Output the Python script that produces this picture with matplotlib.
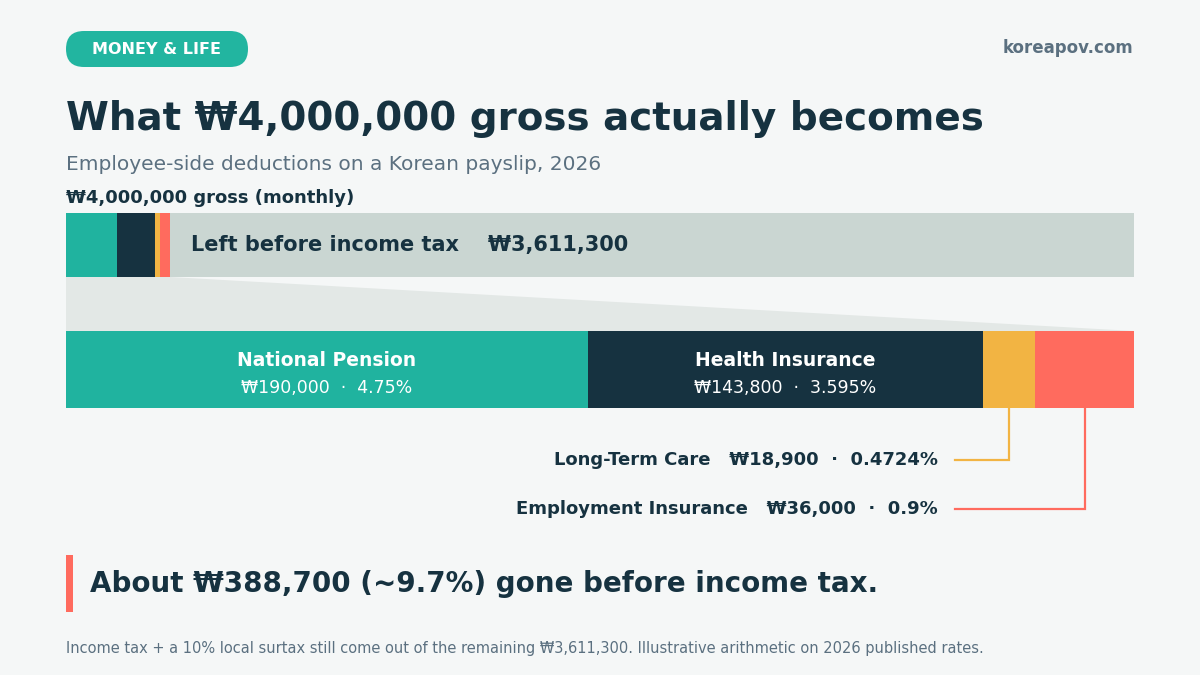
import matplotlib.pyplot as plt
from matplotlib.patches import FancyBboxPatch, Polygon, Rectangle

# data
gross = 4000000
labels = ["National Pension", "Health Insurance", "Long-Term Care", "Employment Insurance"]
amounts = [190000, 143800, 18900, 36000]
rates = ["4.75%", "3.595%", "0.4724%", "0.9%"]
colors = ["#20b39f", "#163240", "#f2b443", "#ff6b5e"]
remaining = gross - sum(amounts)

BG = "#f5f7f7"
DARK = "#163240"
GRAY = "#5b7080"
REST = "#cad6d2"
FUNNEL = "#e3e8e6"

W, H = 1200, 675
fig = plt.figure(figsize=(12, 6.75), dpi=100, facecolor=BG)

# overlay in pixel coordinates for text and decoration
ov = fig.add_axes([0, 0, 1, 1], zorder=0)
ov.set_xlim(0, W)
ov.set_ylim(H, 0)
ov.axis("off")

def fig_rect(x0, y0, x1, y1):
    return [x0 / W, 1 - y1 / H, (x1 - x0) / W, (y1 - y0) / H]

ax_top = fig.add_axes(fig_rect(66, 213, 1134, 277), zorder=2)
ax_bot = fig.add_axes(fig_rect(66, 331, 1134, 408), zorder=2)
for a in (ax_top, ax_bot):
    a.axis("off")
    a.set_ylim(-0.5, 0.5)

# top bar: whole gross
left = 0
for amt, c in zip(amounts, colors):
    ax_top.barh(0, amt, left=left, height=1, color=c, linewidth=0)
    left += amt
ax_top.barh(0, remaining, left=left, height=1, color=REST, linewidth=0)
ax_top.set_xlim(0, gross)

# bottom bar: deductions only
total_ded = sum(amounts)
left = 0
centers = []
for amt, c in zip(amounts, colors):
    ax_bot.barh(0, amt, left=left, height=1, color=c, linewidth=0)
    centers.append(left + amt / 2)
    left += amt
ax_bot.set_xlim(0, total_ded)

def to_px(ax, x, y):
    dx, dy = ax.transData.transform((x, y))
    return dx, H - dy

# funnel between bars
p1 = to_px(ax_top, 0, -0.5)
p2 = to_px(ax_top, total_ded, -0.5)
p3 = to_px(ax_bot, total_ded, 0.5)
p4 = to_px(ax_bot, 0, 0.5)
ov.add_patch(Polygon([p1, p2, p3, p4], closed=True, color=FUNNEL, linewidth=0))

# labels inside bottom bar for the two big segments
for i in range(2):
    ax_bot.text(centers[i], 0.115, labels[i], ha="center", va="center",
                color="white", fontsize=13.5, fontweight="bold")
    ax_bot.text(centers[i], -0.245, f"₩{amounts[i]:,}  ·  {rates[i]}", ha="center",
                va="center", color="white", fontsize=12.5)

# callouts for the two small segments
call_y = [460, 509]
for i, cy in zip([2, 3], call_y):
    cx, by = to_px(ax_bot, centers[i], -0.5)
    ov.plot([955, cx, cx], [cy, cy, by], color=colors[i], linewidth=1.6,
            solid_joinstyle="miter")
    ov.text(938, cy, f"{labels[i]}   ₩{amounts[i]:,}  ·  {rates[i]}", ha="right",
            va="center", color=DARK, fontsize=13, fontweight="bold")

# header
ov.add_patch(FancyBboxPatch((66, 31), 182, 36, boxstyle="round,pad=0,rounding_size=18",
                            color="#22b5a0", linewidth=0))
ov.text(157, 49, "MONEY & LIFE", ha="center", va="center", color="white",
        fontsize=11.5, fontweight="bold")
ov.text(1133, 48, "koreapov.com", ha="right", va="center", color=GRAY,
        fontsize=12, fontweight="bold")

ov.text(66, 119, "What ₩4,000,000 gross actually becomes", ha="left", va="center",
        color=DARK, fontsize=28, fontweight="bold")
ov.text(66, 164, "Employee-side deductions on a Korean payslip, 2026", ha="left",
        va="center", color=GRAY, fontsize=14.5)
ov.text(66, 198, "₩4,000,000 gross (monthly)", ha="left", va="center", color=DARK,
        fontsize=13, fontweight="bold")

ax_top.text(sum(amounts) + gross * 0.02, 0, f"Left before income tax    ₩{remaining:,}",
            ha="left", va="center", color=DARK, fontsize=15, fontweight="bold")

# takeaway
ov.add_patch(Rectangle((66, 555), 7, 57, color="#ff6b5e", linewidth=0))
ov.text(90, 584, f"About ₩{total_ded:,} (~{total_ded / gross * 100:.1f}%) gone before income tax.",
        ha="left", va="center", color=DARK, fontsize=20, fontweight="bold")
ov.text(66, 648, f"Income tax + a 10% local surtax still come out of the remaining ₩{remaining:,}. "
        "Illustrative arithmetic on 2026 published rates.", ha="left", va="center",
        color=GRAY, fontsize=10.5)

fig.savefig("out.png", dpi=100, facecolor=BG)
